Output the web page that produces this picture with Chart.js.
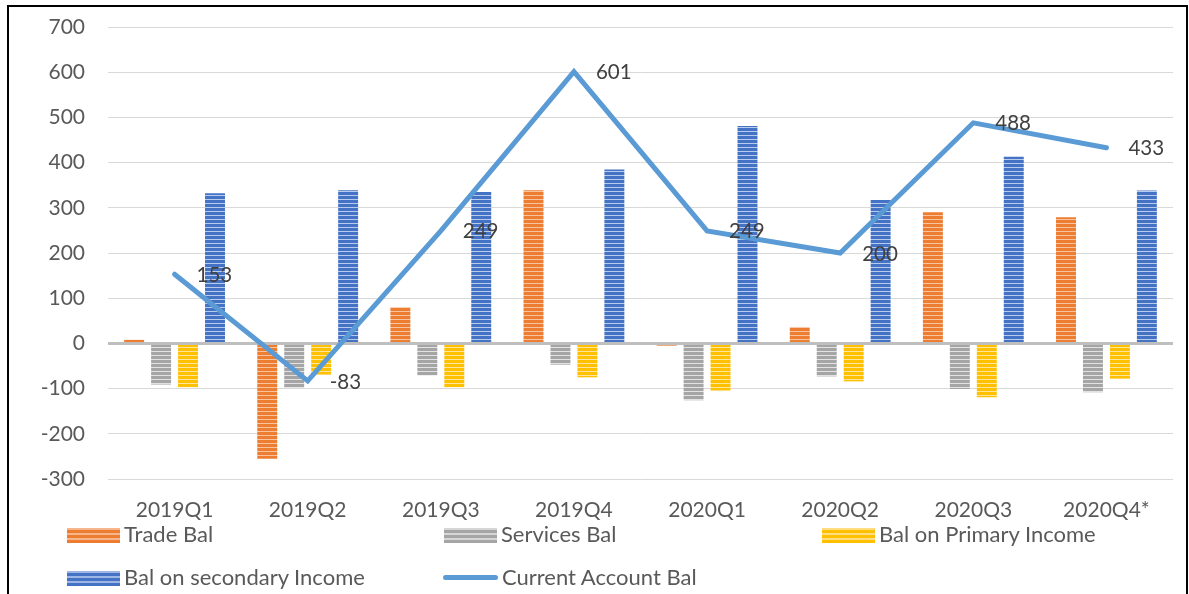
<!DOCTYPE html>
<html>
<head>
<meta charset="utf-8">
<script src="https://cdn.jsdelivr.net/npm/chart.js@4.4.1/dist/chart.umd.min.js"></script>
<style>
  html, body { margin: 0; padding: 0; background: #fff; overflow: hidden; }
  #wrap { position: relative; width: 1189px; height: 594px; }
  #frame { position: absolute; left: 7px; top: 5px; width: 1177px; height: 700px; border: 2px solid #000; box-sizing: content-box; pointer-events: none; }
  canvas { position: absolute; left: 0; top: 0; }
  .lg { position: absolute; font-family: 'Lato', sans-serif; font-size: 22px; color: #595959; white-space: nowrap; line-height: 24px; }
  .sw { position: absolute; }
</style>
</head>
<body>
<div id="wrap">
  <canvas id="c" width="1189" height="594"></canvas>
  <div id="frame"></div>
  <div id="legend"></div>
</div>
<script>
// Quarterly balance of payments components
const quarters = ['2019Q1', '2019Q2', '2019Q3', '2019Q4', '2020Q1', '2020Q2', '2020Q3', '2020Q4*'];
const tradeBal = [8, -255, 80, 339, -5, 36, 290, 279];
const servicesBal = [-91, -98, -71, -47, -126, -73, -101, -108];
const primaryIncomeBal = [-97, -69, -97, -75, -104, -84, -119, -78];
const secondaryIncomeBal = [332, 339, 335, 385, 481, 317, 413, 338];
const currentAccountBal = [153, -83, 249, 601, 249, 200, 488, 433];
const yTicks = [-300, -200, -100, 0, 100, 200, 300, 400, 500, 600, 700];

const seriesNames = ['Trade Bal', 'Services Bal', 'Bal on Primary Income', 'Bal on secondary Income', 'Current Account Bal'];
const colors = {
  trade: '#ED7D31',
  services: '#A5A5A5',
  primary: '#FFC000',
  secondary: '#4472C4',
  current: '#5B9BD5'
};

// Horizontal-stripe fill: solid colour with a thin light line every few pixels
function stripe(color, light) {
  const p = document.createElement('canvas');
  p.width = 8; p.height = 4;
  const g = p.getContext('2d');
  g.fillStyle = color; g.fillRect(0, 0, 8, 4);
  g.fillStyle = light; g.fillRect(0, 3, 8, 1);
  return g.createPattern(p, 'repeat');
}

const ctx = document.getElementById('c').getContext('2d');

// Heavier axis line at zero, drawn over the bars but under the line series
const zeroLine = {
  id: 'zeroLine',
  beforeDatasetDraw(chart, args) {
    if (args.index !== 4) return;
    const y = chart.scales.y.getPixelForValue(0);
    const a = chart.chartArea;
    const g = chart.ctx;
    g.save();
    g.strokeStyle = '#BFBFBF';
    g.lineWidth = 3;
    g.beginPath();
    g.moveTo(a.left, y);
    g.lineTo(a.right, y);
    g.stroke();
    g.restore();
  }
};

// Value labels to the right of each point of the current account line
const lineLabels = {
  id: 'lineLabels',
  afterDatasetsDraw(chart) {
    const meta = chart.getDatasetMeta(4);
    const g = chart.ctx;
    g.save();
    g.font = '20.5px Lato';
    g.fillStyle = '#404040';
    g.textAlign = 'left';
    g.textBaseline = 'middle';
    meta.data.forEach((pt, i) => {
      g.fillText(String(currentAccountBal[i]), pt.x + 22, pt.y + 1);
    });
    g.restore();
  }
};

const barCommon = { barPercentage: 0.74, categoryPercentage: 0.81, borderWidth: 0, order: 2 };

new Chart(ctx, {
  data: {
    labels: quarters,
    datasets: [
      Object.assign({ type: 'bar', label: seriesNames[0], data: tradeBal, backgroundColor: stripe(colors.trade, '#F8C4A0') }, barCommon),
      Object.assign({ type: 'bar', label: seriesNames[1], data: servicesBal, backgroundColor: stripe(colors.services, '#E2E2E2') }, barCommon),
      Object.assign({ type: 'bar', label: seriesNames[2], data: primaryIncomeBal, backgroundColor: stripe(colors.primary, '#FFE69A') }, barCommon),
      Object.assign({ type: 'bar', label: seriesNames[3], data: secondaryIncomeBal, backgroundColor: stripe(colors.secondary, '#B9CBEC') }, barCommon),
      { type: 'line', label: seriesNames[4], data: currentAccountBal, borderColor: colors.current, borderWidth: 5,
        pointRadius: 0, tension: 0, fill: false, borderCapStyle: 'round', order: 1 }
    ]
  },
  options: {
    responsive: false,
    animation: false,
    layout: { padding: { top: 27, right: 16, bottom: 0, left: 0 } },
    plugins: { legend: { display: false }, tooltip: { enabled: false } },
    scales: {
      x: {
        grid: { display: false, drawTicks: false },
        border: { display: false },
        ticks: { font: { family: 'Lato', size: 21 }, color: '#595959', padding: 19, maxRotation: 0 },
        afterFit(scale) { scale.height = 115; }
      },
      y: {
        min: -300, max: 700,
        afterBuildTicks(scale) { scale.ticks = yTicks.map(v => ({ value: v })); },
        grid: {
          drawTicks: false,
          color: '#D9D9D9',
          lineWidth: c => (c.tick && c.tick.value === 0 ? 0 : 1)
        },
        border: { display: false },
        ticks: { font: { family: 'Lato', size: 21 }, color: '#595959', padding: 23 },
        afterFit(scale) {
          scale.width = 108;
          // the label gap is horizontal only; keep it out of the vertical layout
          scale.paddingTop = 0;
          scale.paddingBottom = 0;
        }
      }
    }
  },
  plugins: [zeroLine, lineLabels]
});

// Legend laid out in two rows under the axis
const legendItems = [
  { name: seriesNames[0], x: 67, y: 535, kind: 'bar', c: colors.trade, l: '#F6B58A' },
  { name: seriesNames[1], x: 444, y: 535, kind: 'bar', c: colors.services, l: '#D6D6D6' },
  { name: seriesNames[2], x: 822, y: 535, kind: 'bar', c: colors.primary, l: '#FFDD80' },
  { name: seriesNames[3], x: 67, y: 578, kind: 'bar', c: colors.secondary, l: '#9DB6E3' },
  { name: seriesNames[4], x: 443, y: 578, kind: 'line', c: colors.current }
];
const lg = document.getElementById('legend');
legendItems.forEach(it => {
  const sw = document.createElement('div');
  sw.className = 'sw';
  if (it.kind === 'bar') {
    sw.style.left = it.x + 'px';
    sw.style.top = (it.y - 7) + 'px';
    sw.style.width = '53px';
    sw.style.height = '15px';
    sw.style.background = 'repeating-linear-gradient(to bottom, ' + it.l + ' 0px, ' + it.l + ' 2px, ' + it.c + ' 2px, ' + it.c + ' 5px)';
  } else {
    sw.style.left = it.x + 'px';
    sw.style.top = (it.y - 3) + 'px';
    sw.style.width = '55px';
    sw.style.height = '5px';
    sw.style.borderRadius = '3px';
    sw.style.background = it.c;
  }
  lg.appendChild(sw);
  const t = document.createElement('div');
  t.className = 'lg';
  t.textContent = it.name;
  t.style.left = (it.kind === 'bar' ? it.x + 57 : it.x + 59) + 'px';
  t.style.top = (it.y - 13) + 'px';
  lg.appendChild(t);
});
</script>
</body>
</html>
